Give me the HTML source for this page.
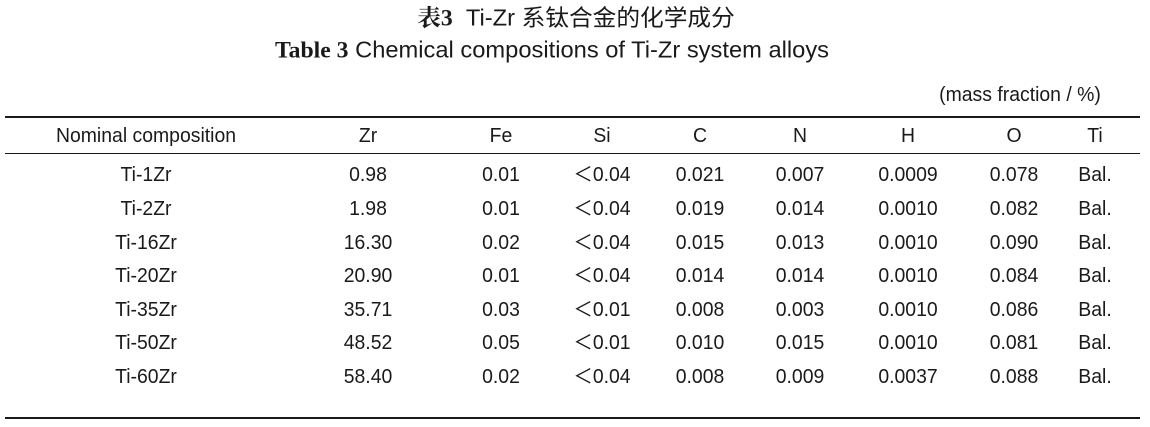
<!DOCTYPE html>
<html><head><meta charset="utf-8"><style>
body{margin:0;background:#fff;}
#c{position:relative;width:1150px;height:427px;overflow:hidden;font-family:"Liberation Sans","Noto Sans CJK SC",sans-serif;color:#1a1a1a;font-size:20px;}
.t{position:absolute;white-space:nowrap;transform:translate(-50%,-50%) scaleX(0.97);line-height:1;}
.r{position:absolute;background:#1a1a1a;}
b.s{font-family:"Liberation Serif","Noto Serif CJK SC",serif;font-weight:bold;}
</style></head><body><div id="c">
<div class="t" style="left:576px;top:18px;font-size:23px;transform:translate(-50%,-50%) scaleX(1.03)"><b class="s">表3</b>&nbsp; Ti-Zr 系钛合金的化学成分</div>
<div class="t" style="left:552px;top:50px;font-size:23px;transform:translate(-50%,-50%) scaleX(1.03)"><b class="s">Table 3</b> Chemical compositions of Ti-Zr system alloys</div>
<div class="t" style="left:1020px;top:95px">(mass fraction / %)</div>
<div class="r" style="left:5px;top:116px;width:1135px;height:2px"></div>
<div class="r" style="left:5px;top:153px;width:1135px;height:1px"></div>
<div class="r" style="left:5px;top:417px;width:1135px;height:2px"></div>
<div id="rows"></div>
</div>
<script>
var cols=[146,368,501,602,700,800,908,1014,1095];
var data=[["Nominal composition","Zr","Fe","Si","C","N","H","O","Ti"],
["Ti-1Zr","0.98","0.01","＜0.04","0.021","0.007","0.0009","0.078","Bal."],
["Ti-2Zr","1.98","0.01","＜0.04","0.019","0.014","0.0010","0.082","Bal."],
["Ti-16Zr","16.30","0.02","＜0.04","0.015","0.013","0.0010","0.090","Bal."],
["Ti-20Zr","20.90","0.01","＜0.04","0.014","0.014","0.0010","0.084","Bal."],
["Ti-35Zr","35.71","0.03","＜0.01","0.008","0.003","0.0010","0.086","Bal."],
["Ti-50Zr","48.52","0.05","＜0.01","0.010","0.015","0.0010","0.081","Bal."],
["Ti-60Zr","58.40","0.02","＜0.04","0.008","0.009","0.0037","0.088","Bal."]];
var ys=[136,175,209,243,276,310,343,377],h="";
data.forEach(function(r,i){r.forEach(function(v,j){h+='<div class="t" style="left:'+cols[j]+'px;top:'+ys[i]+'px">'+v+'</div>';});});
document.getElementById("rows").innerHTML=h;
</script>
</body></html>
